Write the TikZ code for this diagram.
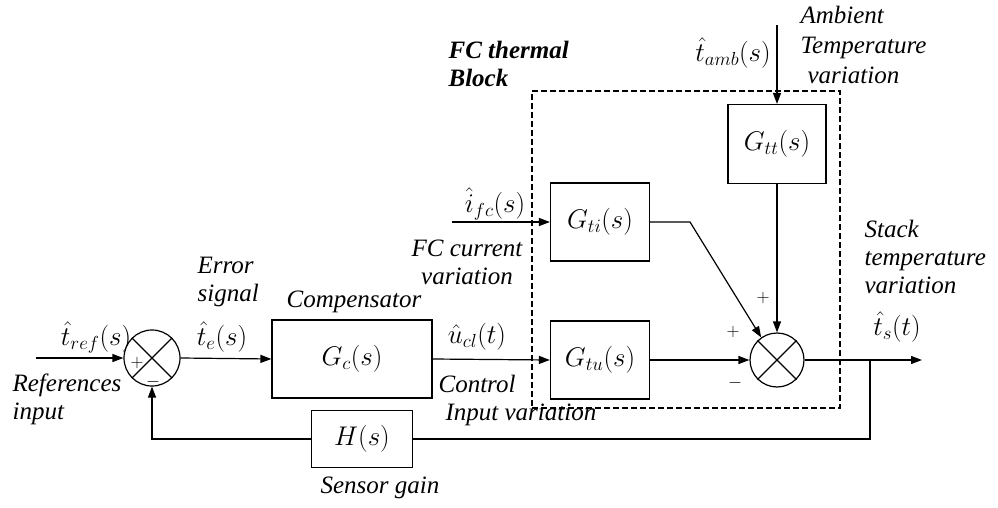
\RequirePackage{fix-cm}
\documentclass[tikz,border=0pt]{standalone}
\usepackage{fontspec}
\setmainfont{Liberation Serif}[ItalicFont={Liberation Serif Italic},BoldItalicFont={Liberation Serif Bold Italic}]
\usetikzlibrary{arrows.meta}
\newcommand\dfont{\fontsize{25}{28}\selectfont\itshape}
\newcommand\mfont{\fontsize{27}{30}\selectfont}
\begin{document}
\begin{tikzpicture}[x=1pt,y=-1pt,line width=1.2pt,
  every node/.style={font=\dfont, inner sep=0pt},
  blk/.style={draw, rectangle, inner sep=0pt, font=\mfont},
  mth/.style={font=\mfont},
  sumc/.style={draw, circle, inner sep=0pt},
  sig/.style={-{Triangle[length=11pt,width=8pt]}},
  lbl/.style={align=left},
  sgn/.style={font=\fontsize{18}{20}\selectfont}]
\useasboundingbox (0,0) rectangle (998,508);

% blocks
\node[sumc, minimum size=56pt] (s1) at (152,358) {};
\draw (s1.north west) -- (s1.south east) (s1.north east) -- (s1.south west);
\node[sumc, minimum size=54pt] (s2) at (777,360) {};
\draw (s2.north west) -- (s2.south east) (s2.north east) -- (s2.south west);
\node[blk, minimum width=160pt, minimum height=78pt] (gc) at (352,359) {$G_c(s)$};
\node[blk, minimum width=99pt, minimum height=78pt] (gtu) at (600,360) {$G_{tu}(s)$};
\node[blk, minimum width=99pt, minimum height=78pt] (gti) at (600,222) {$G_{ti}(s)$};
\node[blk, minimum width=98pt, minimum height=79pt] (gtt) at (777,144) {$G_{tt}(s)$};
\node[blk, minimum width=101pt, minimum height=57pt] (h) at (362,439) {$H(s)$};
\node[draw, dash pattern=on 6pt off 3pt, minimum width=308pt, minimum height=317pt] (fcb) at (686,249.5) {};

% free ends
\coordinate (in) at (36,358);
\coordinate (ifc) at (452,222);
\coordinate (amb) at (777,25);
\coordinate (out) at (922,360);
\coordinate (br) at (870,360);
\coordinate (bend) at (690,222);
\coordinate (fbl) at (152,439);
\coordinate (fbr) at (870,439);

% connectors
\draw[sig] (in) -- (s1.west);
\draw[sig] (s1.east) -- (gc.west);
\draw[sig] (gc.east) -- (gtu.west);
\draw[sig] (ifc) -- (gti.west);
\draw[sig] (amb) -- (gtt.north);
\draw[sig] (gtt.south) -- (s2.north);
\draw[sig] (gti.east) -- (bend) -- (s2.125);
\draw[sig] (gtu.east) -- (s2.west);
\draw[sig] (s2.east) -- (out);
\draw (br) -- (fbr) -- (h.east);
\draw[sig] (h.west) -- (fbl) -- (s1.south);

% labels
\node[mth] at (96,337) {$\hat t_{ref}(s)$};
\node[lbl, anchor=west] at (12,399) {References\\input};
\node[lbl, anchor=west] at (197,282) {Error\\signal};
\node[mth] at (222,337) {$\hat t_e(s)$};
\node at (354,302) {Compensator};
\node[mth] at (477,337) {$\hat u_{cl}(t)$};
\node[lbl, anchor=west] at (438,400) {Control\\\hspace{7pt}Input variation};
\node[mth] at (495,204) {$\hat i_{fc}(s)$};
\node[align=center] at (467,262) {FC current\\variation};
\node[lbl, anchor=west, font=\dfont\bfseries] at (448,64) {FC thermal\\Block};
\node[mth] at (733,53) {$\hat t_{amb}(s)$};
\node[lbl, anchor=west, font=\fontsize{25}{30}\selectfont\itshape] at (800,45) {Ambient\\Temperature\\\hspace{7pt}variation};
\node[lbl, anchor=west] at (864,257) {Stack\\temperature\\variation};
\node[mth] at (897,327) {$\hat t_s(t)$};
\node at (380,488) {Sensor gain};

% signs
\node[sgn] at (137,363) {$+$};
\node[sgn] at (153,382) {$-$};
\node[sgn] at (763,298) {$+$};
\node[sgn] at (733,332) {$+$};
\node[sgn] at (735,383) {$-$};
\end{tikzpicture}
\end{document}
